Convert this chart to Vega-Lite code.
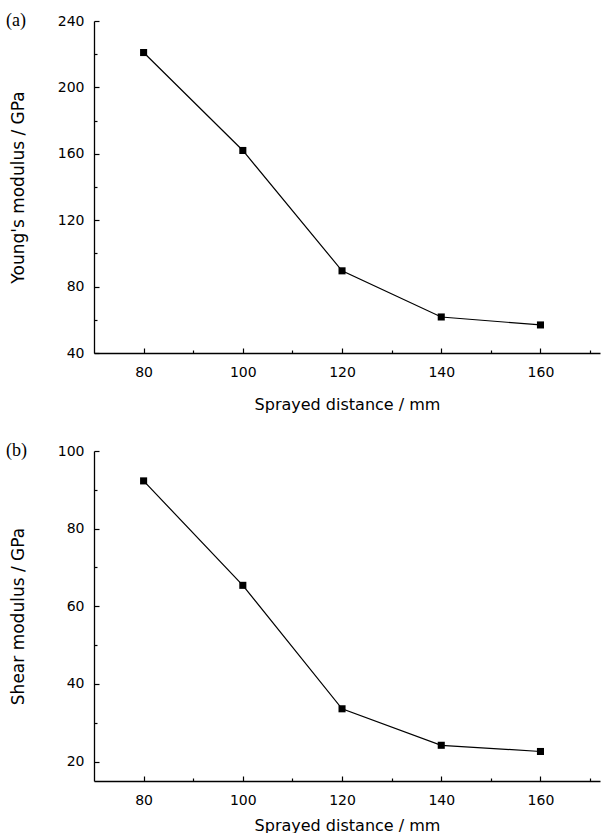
{
  "$schema": "https://vega.github.io/schema/vega-lite/v6.json",
  "background": "white",
  "padding": {"left": 6, "top": 12, "right": 5, "bottom": 0},
  "datasets": {
    "young": [
      {"distance": 80, "modulus": 221},
      {"distance": 100, "modulus": 162},
      {"distance": 120, "modulus": 89.5},
      {"distance": 140, "modulus": 61.7},
      {"distance": 160, "modulus": 56.9}
    ],
    "shear": [
      {"distance": 80, "modulus": 92.3},
      {"distance": 100, "modulus": 65.4},
      {"distance": 120, "modulus": 33.6},
      {"distance": 140, "modulus": 24.2},
      {"distance": 160, "modulus": 22.6}
    ]
  },
  "config": {
    "view": {"stroke": null},
    "axis": {
      "grid": false,
      "domainColor": "black",
      "domainWidth": 1.3,
      "tickColor": "black",
      "tickWidth": 1.2,
      "tickSize": -5,
      "labelPadding": 15,
      "labelFont": "DejaVu Sans",
      "labelFontSize": 14,
      "labelColor": "black",
      "titleFont": "DejaVu Sans",
      "titleFontSize": 16,
      "titleFontWeight": "normal",
      "titleColor": "black"
    },
    "axisX": {"labelPadding": 17, "titlePadding": 17},
    "axisY": {"titleFontSize": 17, "titlePadding": 30},
    "title": {"font": "Liberation Serif", "fontSize": 18, "fontWeight": "normal", "color": "black"}
  },
  "vconcat": [
    {
      "width": 506,
      "height": 332,
      "title": {"text": "(a)", "anchor": "start", "frame": "group", "dx": -88, "offset": -16, "baseline": "top"},
      "data": {"name": "young"},
      "layer": [
        {
          "mark": {"type": "line", "color": "black", "strokeWidth": 1.2},
          "encoding": {
            "x": {"field": "distance", "type": "quantitative", "scale": {"domain": [70, 172], "nice": false, "zero": false},
                  "axis": {"values": [80, 100, 120, 140, 160], "title": "Sprayed distance / mm"}},
            "y": {"field": "modulus", "type": "quantitative", "scale": {"domain": [40, 240], "nice": false, "zero": false},
                  "axis": {"values": [40, 80, 120, 160, 200, 240], "title": "Young's modulus / GPa"}}
          }
        },
        {
          "mark": {"type": "square", "color": "black", "opacity": 1, "size": 50},
          "encoding": {
            "x": {"field": "distance", "type": "quantitative",
                  "axis": {"orient": "bottom", "values": [90, 110, 130, 150, 170], "labels": false, "domain": false, "tickSize": -3, "title": null}},
            "y": {"field": "modulus", "type": "quantitative",
                  "axis": {"orient": "left", "values": [60, 100, 140, 180, 220], "labels": false, "domain": false, "tickSize": -3, "title": null}}
          }
        }
      ],
      "resolve": {"axis": {"x": "independent", "y": "independent"}}
    },
    {
      "width": 506,
      "height": 330,
      "title": {"text": "(b)", "anchor": "start", "frame": "group", "dx": -88, "offset": -16, "baseline": "top"},
      "data": {"name": "shear"},
      "layer": [
        {
          "mark": {"type": "line", "color": "black", "strokeWidth": 1.2},
          "encoding": {
            "x": {"field": "distance", "type": "quantitative", "scale": {"domain": [70, 172], "nice": false, "zero": false},
                  "axis": {"values": [80, 100, 120, 140, 160], "title": "Sprayed distance / mm", "titlePadding": 10}},
            "y": {"field": "modulus", "type": "quantitative", "scale": {"domain": [15, 100], "nice": false, "zero": false},
                  "axis": {"values": [20, 40, 60, 80, 100], "title": "Shear modulus / GPa"}}
          }
        },
        {
          "mark": {"type": "square", "color": "black", "opacity": 1, "size": 50},
          "encoding": {
            "x": {"field": "distance", "type": "quantitative",
                  "axis": {"orient": "bottom", "values": [90, 110, 130, 150, 170], "labels": false, "domain": false, "tickSize": -3, "title": null}},
            "y": {"field": "modulus", "type": "quantitative",
                  "axis": {"orient": "left", "values": [30, 50, 70, 90], "labels": false, "domain": false, "tickSize": -3, "title": null}}
          }
        }
      ],
      "resolve": {"axis": {"x": "independent", "y": "independent"}}
    }
  ],
  "spacing": 30
}
